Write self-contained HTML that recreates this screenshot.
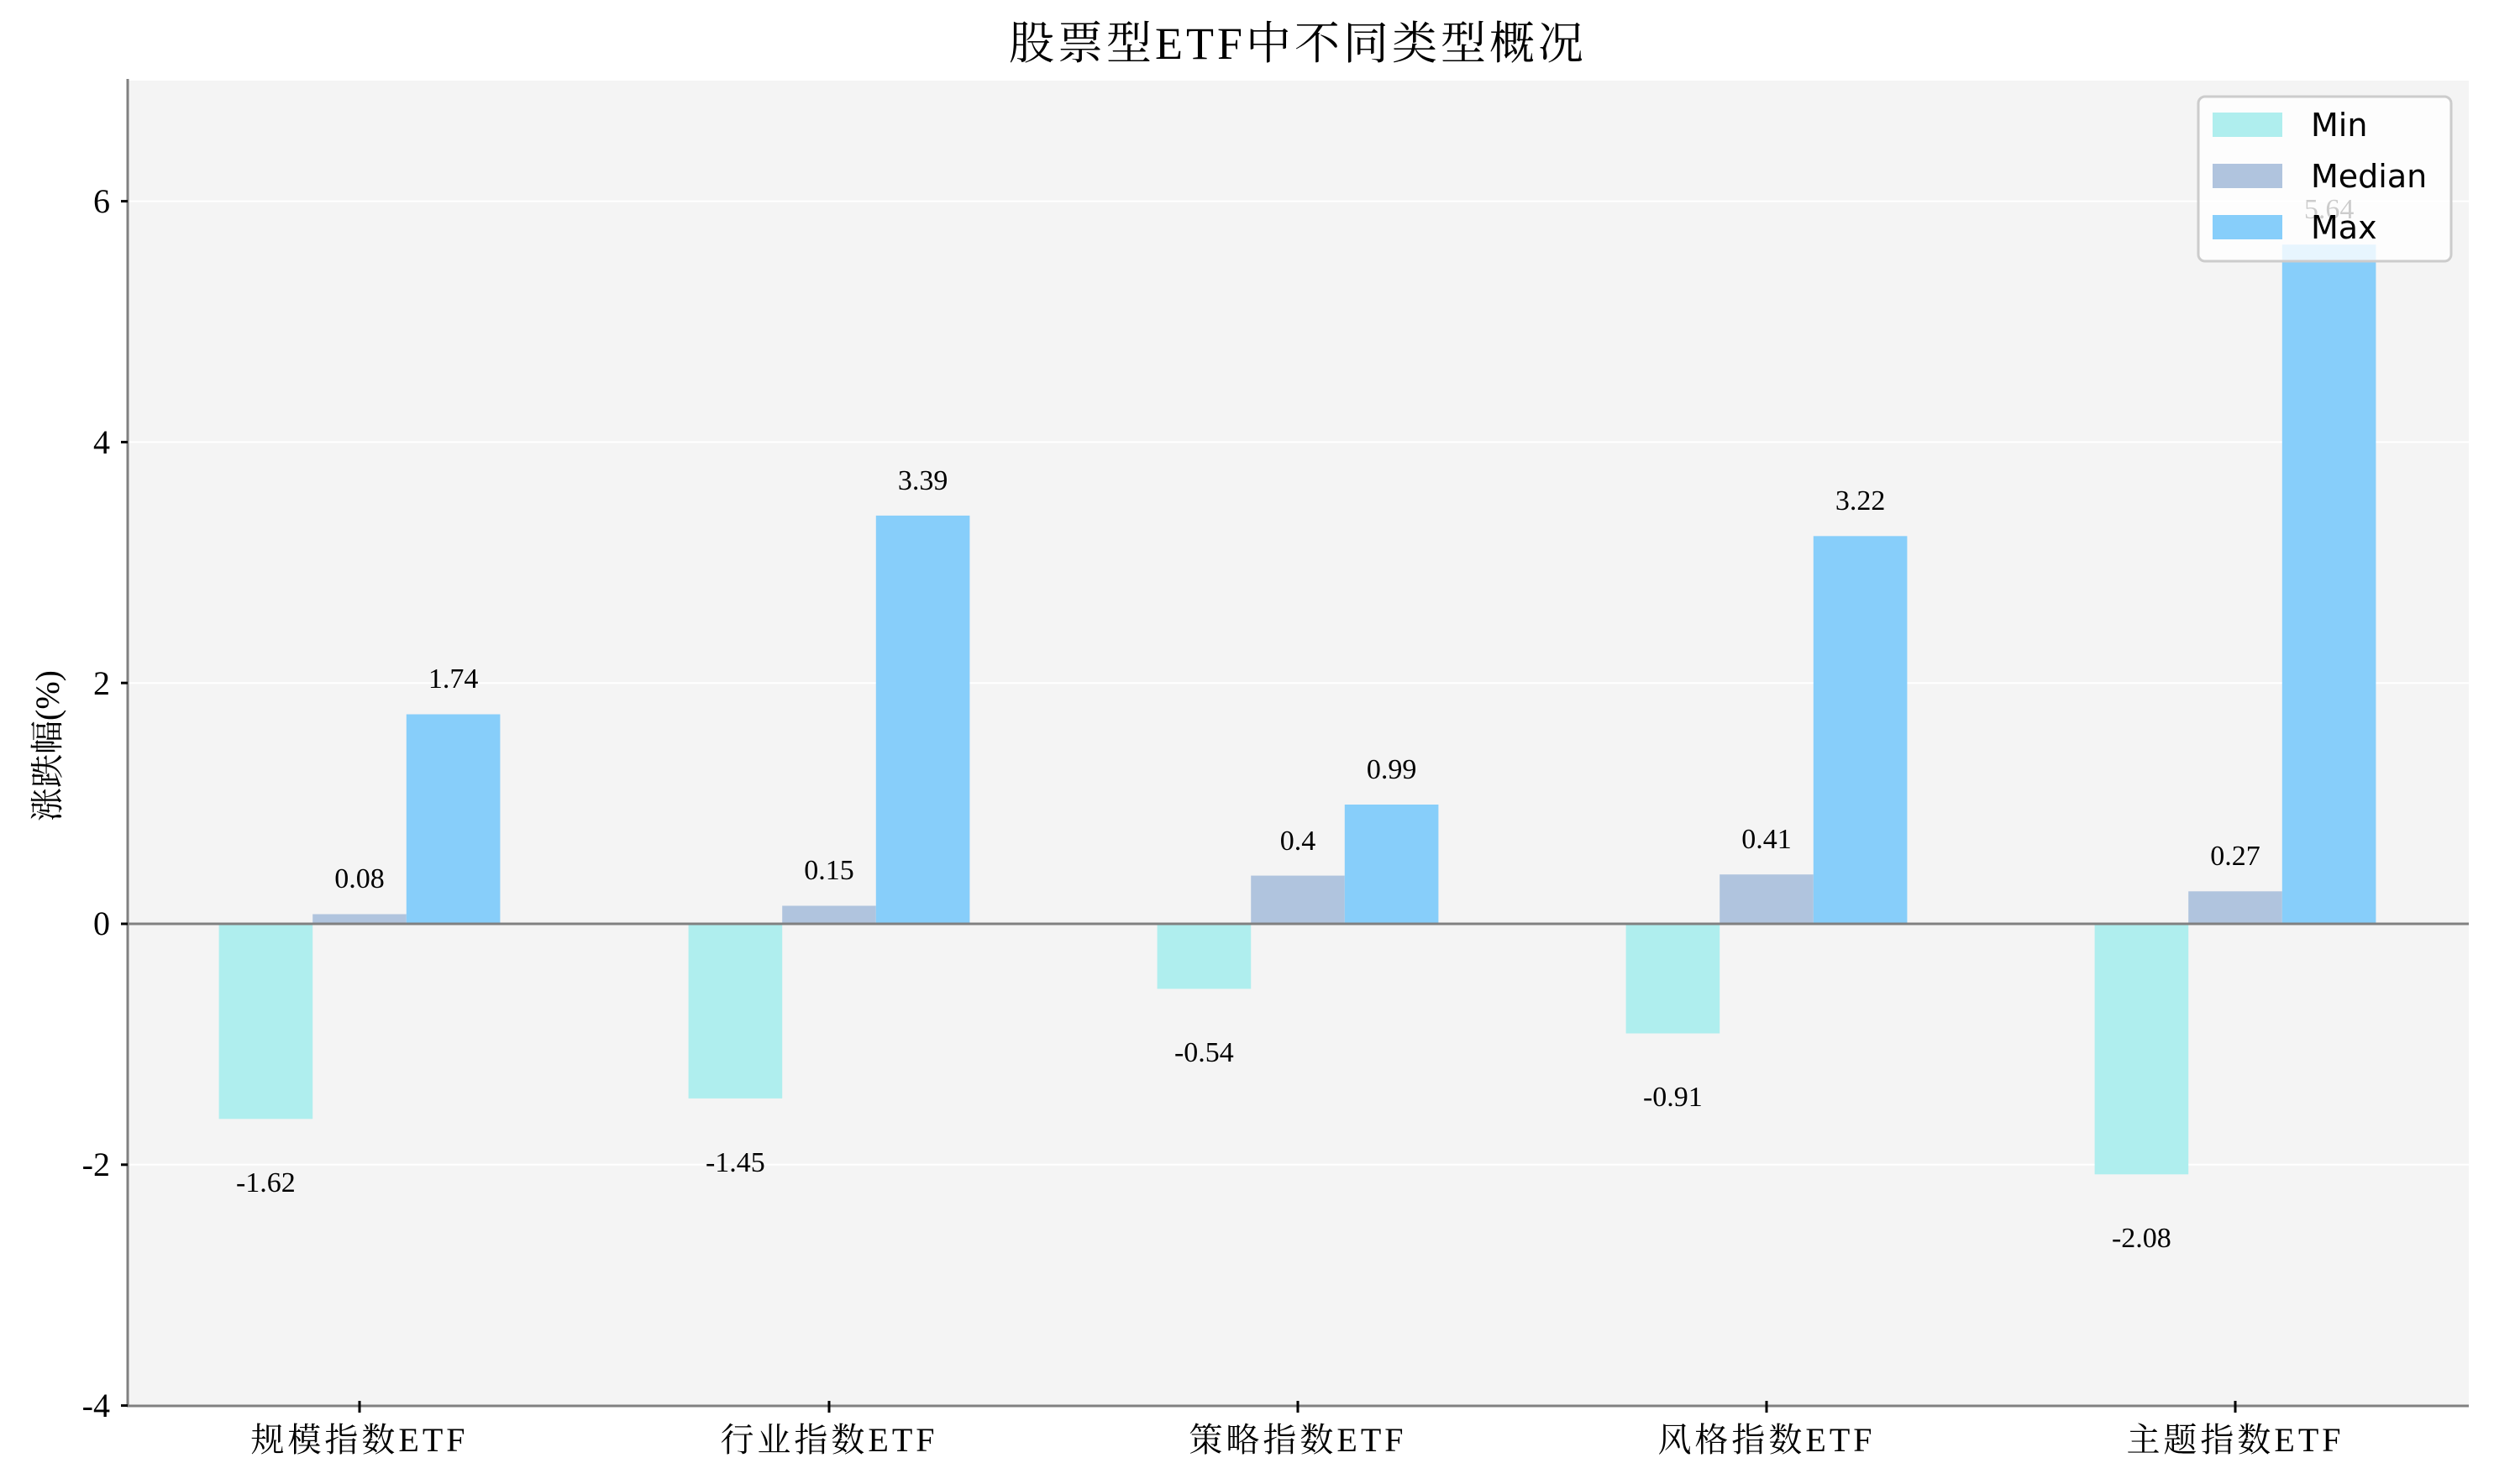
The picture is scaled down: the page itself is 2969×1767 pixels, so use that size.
<!DOCTYPE html>
<html><head><meta charset="utf-8"><style>
html,body{margin:0;padding:0;background:#fff;}
svg{display:block;}
.s{font-family:"Liberation Serif","Noto Serif CJK SC",serif;}
</style></head><body>
<svg width="2969" height="1767" viewBox="0 0 2969 1767" xmlns="http://www.w3.org/2000/svg">
<rect x="151" y="96" width="2788" height="1578" fill="#f4f4f4"/>
<g stroke="#ffffff" stroke-width="2">
<line x1="151" x2="2939" y1="239.6" y2="239.6"/>
<line x1="151" x2="2939" y1="526.4" y2="526.4"/>
<line x1="151" x2="2939" y1="813.2" y2="813.2"/>
<line x1="151" x2="2939" y1="1386.8" y2="1386.8"/>
</g>
<g>
<rect x="260.6" y="1100" width="111.6" height="232.3" fill="#afeeee"/>
<rect x="372.2" y="1088.5" width="111.6" height="11.5" fill="#b0c4de"/>
<rect x="483.8" y="850.5" width="111.6" height="249.5" fill="#87cefa"/>
<rect x="819.6" y="1100" width="111.6" height="207.9" fill="#afeeee"/>
<rect x="931.2" y="1078.5" width="111.6" height="21.5" fill="#b0c4de"/>
<rect x="1042.8" y="613.9" width="111.6" height="486.1" fill="#87cefa"/>
<rect x="1377.6" y="1100" width="111.6" height="77.4" fill="#afeeee"/>
<rect x="1489.2" y="1042.6" width="111.6" height="57.4" fill="#b0c4de"/>
<rect x="1600.8" y="958" width="111.6" height="142" fill="#87cefa"/>
<rect x="1935.6" y="1100" width="111.6" height="130.5" fill="#afeeee"/>
<rect x="2047.2" y="1041.2" width="111.6" height="58.8" fill="#b0c4de"/>
<rect x="2158.8" y="638.3" width="111.6" height="461.7" fill="#87cefa"/>
<rect x="2493.6" y="1100" width="111.6" height="298.3" fill="#afeeee"/>
<rect x="2605.2" y="1061.3" width="111.6" height="38.7" fill="#b0c4de"/>
<rect x="2716.8" y="291.2" width="111.6" height="808.8" fill="#87cefa"/>
</g>
<line x1="151" x2="2939" y1="1100" y2="1100" stroke="#808080" stroke-width="3"/>
<line x1="152" x2="152" y1="94" y2="1675" stroke="#808080" stroke-width="3"/>
<line x1="151" x2="2939" y1="1674" y2="1674" stroke="#808080" stroke-width="3"/>
<g stroke="#000" stroke-width="3">
<line x1="144" x2="152" y1="239.6" y2="239.6"/><line x1="144" x2="152" y1="526.4" y2="526.4"/>
<line x1="144" x2="152" y1="813.2" y2="813.2"/><line x1="144" x2="152" y1="1100" y2="1100"/>
<line x1="144" x2="152" y1="1386.8" y2="1386.8"/><line x1="144" x2="152" y1="1673.6" y2="1673.6"/>
<line x1="428" x2="428" y1="1668" y2="1682"/><line x1="987" x2="987" y1="1668" y2="1682"/>
<line x1="1545" x2="1545" y1="1668" y2="1682"/><line x1="2103" x2="2103" y1="1668" y2="1682"/>
<line x1="2661" x2="2661" y1="1668" y2="1682"/>
</g>
<g class="s" font-size="40" text-anchor="end" fill="#000">
<text x="131" y="253">6</text><text x="131" y="540">4</text><text x="131" y="827">2</text>
<text x="131" y="1113">0</text><text x="131" y="1400">-2</text><text x="131" y="1687">-4</text>
</g>
<g class="s" font-size="40" text-anchor="middle" fill="#000" letter-spacing="4">
<text x="428" y="1728">规模指数ETF</text><text x="987" y="1728">行业指数ETF</text>
<text x="1545" y="1728">策略指数ETF</text><text x="2103" y="1728">风格指数ETF</text>
<text x="2661" y="1728">主题指数ETF</text>
</g>
<text class="s" font-size="54" letter-spacing="4" text-anchor="middle" x="1545" y="70">股票型ETF中不同类型概况</text>
<text class="s" font-size="40" text-anchor="middle" transform="translate(70,888) rotate(-90)">涨跌幅(%)</text>
<g class="s" font-size="34" text-anchor="middle" fill="#000">
<text x="316.4" y="1419">-1.62</text><text x="428" y="1057">0.08</text><text x="539.6" y="819">1.74</text>
<text x="875.4" y="1395">-1.45</text><text x="987" y="1047">0.15</text><text x="1098.6" y="583">3.39</text>
<text x="1433.4" y="1264">-0.54</text><text x="1545" y="1012">0.4</text><text x="1656.6" y="927">0.99</text>
<text x="1991.4" y="1317">-0.91</text><text x="2103" y="1010">0.41</text><text x="2214.6" y="607">3.22</text>
<text x="2549.4" y="1485">-2.08</text><text x="2661" y="1030">0.27</text><text x="2772.6" y="260">5.64</text>
</g>
<g>
<rect x="2617" y="115" width="301" height="196" rx="8" fill="#ffffff" fill-opacity="0.8" stroke="#cccccc" stroke-width="3"/>
<rect x="2634" y="134" width="83" height="29" fill="#afeeee"/>
<rect x="2634" y="195" width="83" height="29" fill="#b0c4de"/>
<rect x="2634" y="256" width="83" height="29" fill="#87cefa"/>
<g font-family="DejaVu Sans, sans-serif" font-size="38" fill="#000">
<text x="2751" y="162">Min</text><text x="2751" y="223">Median</text><text x="2751" y="284">Max</text>
</g>
</g>
</svg>
</body></html>
